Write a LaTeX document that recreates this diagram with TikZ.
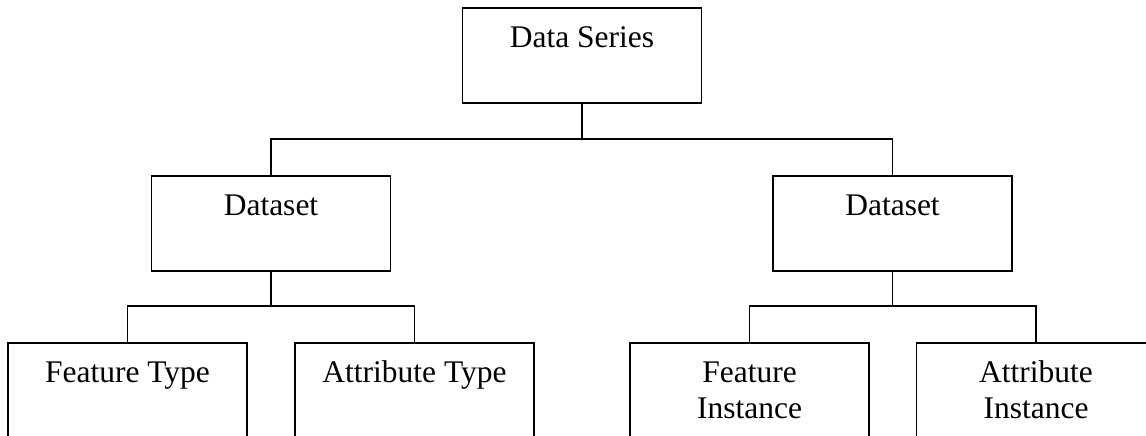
\documentclass[tikz,border=0pt]{standalone}
\usepackage{fontspec}
\setmainfont{Liberation Serif}
\begin{document}
\begin{tikzpicture}[x=1pt,y=-1pt,
  box/.style={draw=black,line width=1.9pt,rectangle,inner sep=0pt,minimum width=239pt,
    anchor=north,font=\fontsize{31.5}{36}\selectfont,text height=40pt},
  upper/.style={box,text depth=55pt},
  lower/.style={box,text depth=140pt},
  conn/.style={draw=black,line width=1.9pt}]
\clip (0,0) rectangle (1146,436);
\fill[white] (0,0) rectangle (1146,436);
\node[upper] (ds) at (582,7) {Data Series};
\node[upper] (d1) at (271,175) {Dataset};
\node[upper] (d2) at (892.5,175) {Dataset};
\node[lower] (ft) at (127.5,342) {Feature Type};
\node[lower] (at) at (414.5,342) {Attribute Type};
\node[lower] (fi) at (749.5,342) {\parbox[t]{200pt}{\centering Feature\\Instance}};
\node[lower] (ai) at (1036,342) {\parbox[t]{200pt}{\centering Attribute\\Instance}};
\coordinate (j1) at (582,139);
\coordinate (j2) at (271,306);
\coordinate (j3) at (892.5,306);
\draw[conn] (d1.north) |- (j1) -| (d2.north);
\draw[conn] (ds.south) -- (j1);
\draw[conn] (ft.north) |- (j2) -| (at.north);
\draw[conn] (d1.south) -- (j2);
\draw[conn] (fi.north) |- (j3) -| (ai.north);
\draw[conn] (d2.south) -- (j3);
\end{tikzpicture}
\end{document}
